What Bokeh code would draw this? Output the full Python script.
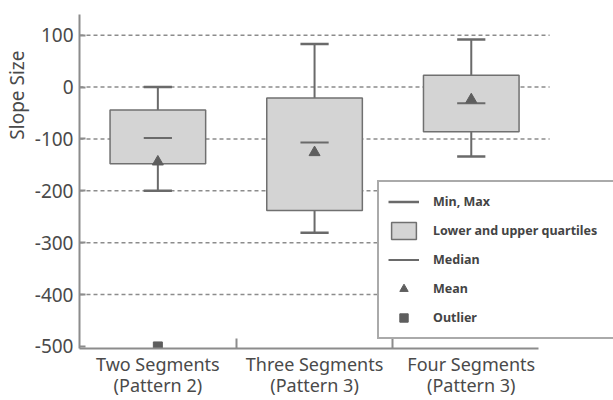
from bokeh.plotting import figure
from bokeh.models import FixedTicker, Legend, LegendItem, Title, Range1d
from bokeh.embed import file_html
from bokeh.resources import INLINE

# ---- data ----
categories = ["Two Segments\n(Pattern 2)", "Three Segments\n(Pattern 3)", "Four Segments\n(Pattern 3)"]
mins = [-200, -281, -134]
q1 = [-148, -238, -86]
medians = [-98, -107, -31]
q3 = [-44, -21, 23]
maxs = [0, 83, 92]
means = [-144, -126, -24]
outlier_cat = [0]
outlier_vals = [-500]
yticks = [-500, -400, -300, -200, -100, 0, 100]
grid_ticks = [-400, -300, -200, -100, 0, 100]

FONT = "Noto Sans"
LINE = "#6a6a6a"
AXIS = "#8c8c8c"
TEXT = "#4a4a4a"

n = len(categories)
pos = [i + 0.5 for i in range(n)]
box_w = 0.61
cap_w = 0.18

W, H = 613, 400
BL, BR = 78, 0
unit_px = 157.0

p = figure(width=W, height=H, output_backend="svg", toolbar_location=None,
           x_range=Range1d(0, (W - BL - BR) / unit_px), y_range=Range1d(-504, 140),
           min_border_left=BL, min_border_right=BR, min_border_top=14, min_border_bottom=50)
p.outline_line_color = None
p.background_fill_color = "white"
p.xgrid.visible = False
p.ygrid.visible = False

# dashed grid lines (limited to the category span)
p.segment(x0=[0] * len(grid_ticks), x1=[n] * len(grid_ticks), y0=grid_ticks, y1=grid_ticks,
          line_color=AXIS, line_width=1.5, line_dash="4 3")

# whisker stems
p.segment(x0=pos + pos, y0=q3 + q1, x1=pos + pos, y1=maxs + mins,
          line_color=LINE, line_width=2)
# boxes
box_r = p.quad(left=[x - box_w / 2 for x in pos], right=[x + box_w / 2 for x in pos],
               bottom=q1, top=q3, fill_color="#d4d4d4", line_color="#707070", line_width=1.5)
# caps
cap_r = p.segment(x0=[x - cap_w / 2 for x in pos + pos], x1=[x + cap_w / 2 for x in pos + pos],
                  y0=maxs + mins, y1=maxs + mins, line_color=LINE, line_width=2.5)
# medians
med_r = p.segment(x0=[x - cap_w / 2 for x in pos], x1=[x + cap_w / 2 for x in pos],
                  y0=medians, y1=medians, line_color=LINE, line_width=2)
# means
mean_r = p.scatter(pos, means, marker="triangle", size=11, color="#5e5e5e")
# outliers
out_r = p.scatter([pos[i] for i in outlier_cat], outlier_vals, marker="square", size=9,
                  color="#5e5e5e")

# axes
p.xaxis.ticker = FixedTicker(ticks=pos, minor_ticks=[1, 2])
p.xaxis.major_label_overrides = {pos[i]: categories[i] for i in range(n)}
p.xaxis.bounds = (0, n - 0.07)
p.xaxis.major_tick_in = 0
p.xaxis.major_tick_out = 0
p.xaxis.minor_tick_in = 10
p.xaxis.minor_tick_out = 0
p.xaxis.minor_tick_line_color = AXIS
p.xaxis.minor_tick_line_width = 2
p.xaxis.major_label_standoff = 3
p.xaxis.major_label_text_line_height = 0.9
p.xaxis.major_label_text_font_size = "18px"

p.yaxis.ticker = FixedTicker(ticks=yticks, minor_ticks=[])
p.yaxis.major_label_overrides = {v: str(v) for v in yticks}
p.yaxis.major_tick_in = 6
p.yaxis.major_tick_out = 0
p.yaxis.major_tick_line_color = AXIS
p.yaxis.major_tick_line_width = 2
p.yaxis.major_label_standoff = 6
p.yaxis.major_label_text_font_size = "19px"

for ax in (p.xaxis, p.yaxis):
    ax.axis_line_color = AXIS
    ax.axis_line_width = 2
    ax.major_label_text_font = FONT
    ax.major_label_text_color = TEXT

p.add_layout(Title(text="Slope Size", align="right", offset=36, standoff=3,
                   text_font_size="19px", text_font_style="normal",
                   text_color=TEXT, text_font=FONT), "left")

legend = Legend(items=[
    LegendItem(label="Min, Max", renderers=[cap_r]),
    LegendItem(label="Lower and upper quartiles", renderers=[box_r]),
    LegendItem(label="Median", renderers=[med_r]),
    LegendItem(label="Mean", renderers=[mean_r]),
    LegendItem(label="Outlier", renderers=[out_r]),
], location=(298, 9))
legend.label_text_font = FONT
legend.label_text_font_size = "12.5px"
legend.label_text_font_style = "bold"
legend.label_text_color = "#444444"
legend.glyph_width = 31
legend.glyph_height = 21
legend.label_height = 21
legend.label_width = 172
legend.label_standoff = 14
legend.spacing = 8
legend.padding = 9
legend.margin = 0
legend.border_line_color = "#555555"
legend.border_line_width = 2
legend.background_fill_alpha = 1
p.add_layout(legend)

open("out.html", "w").write(file_html(p, INLINE))
